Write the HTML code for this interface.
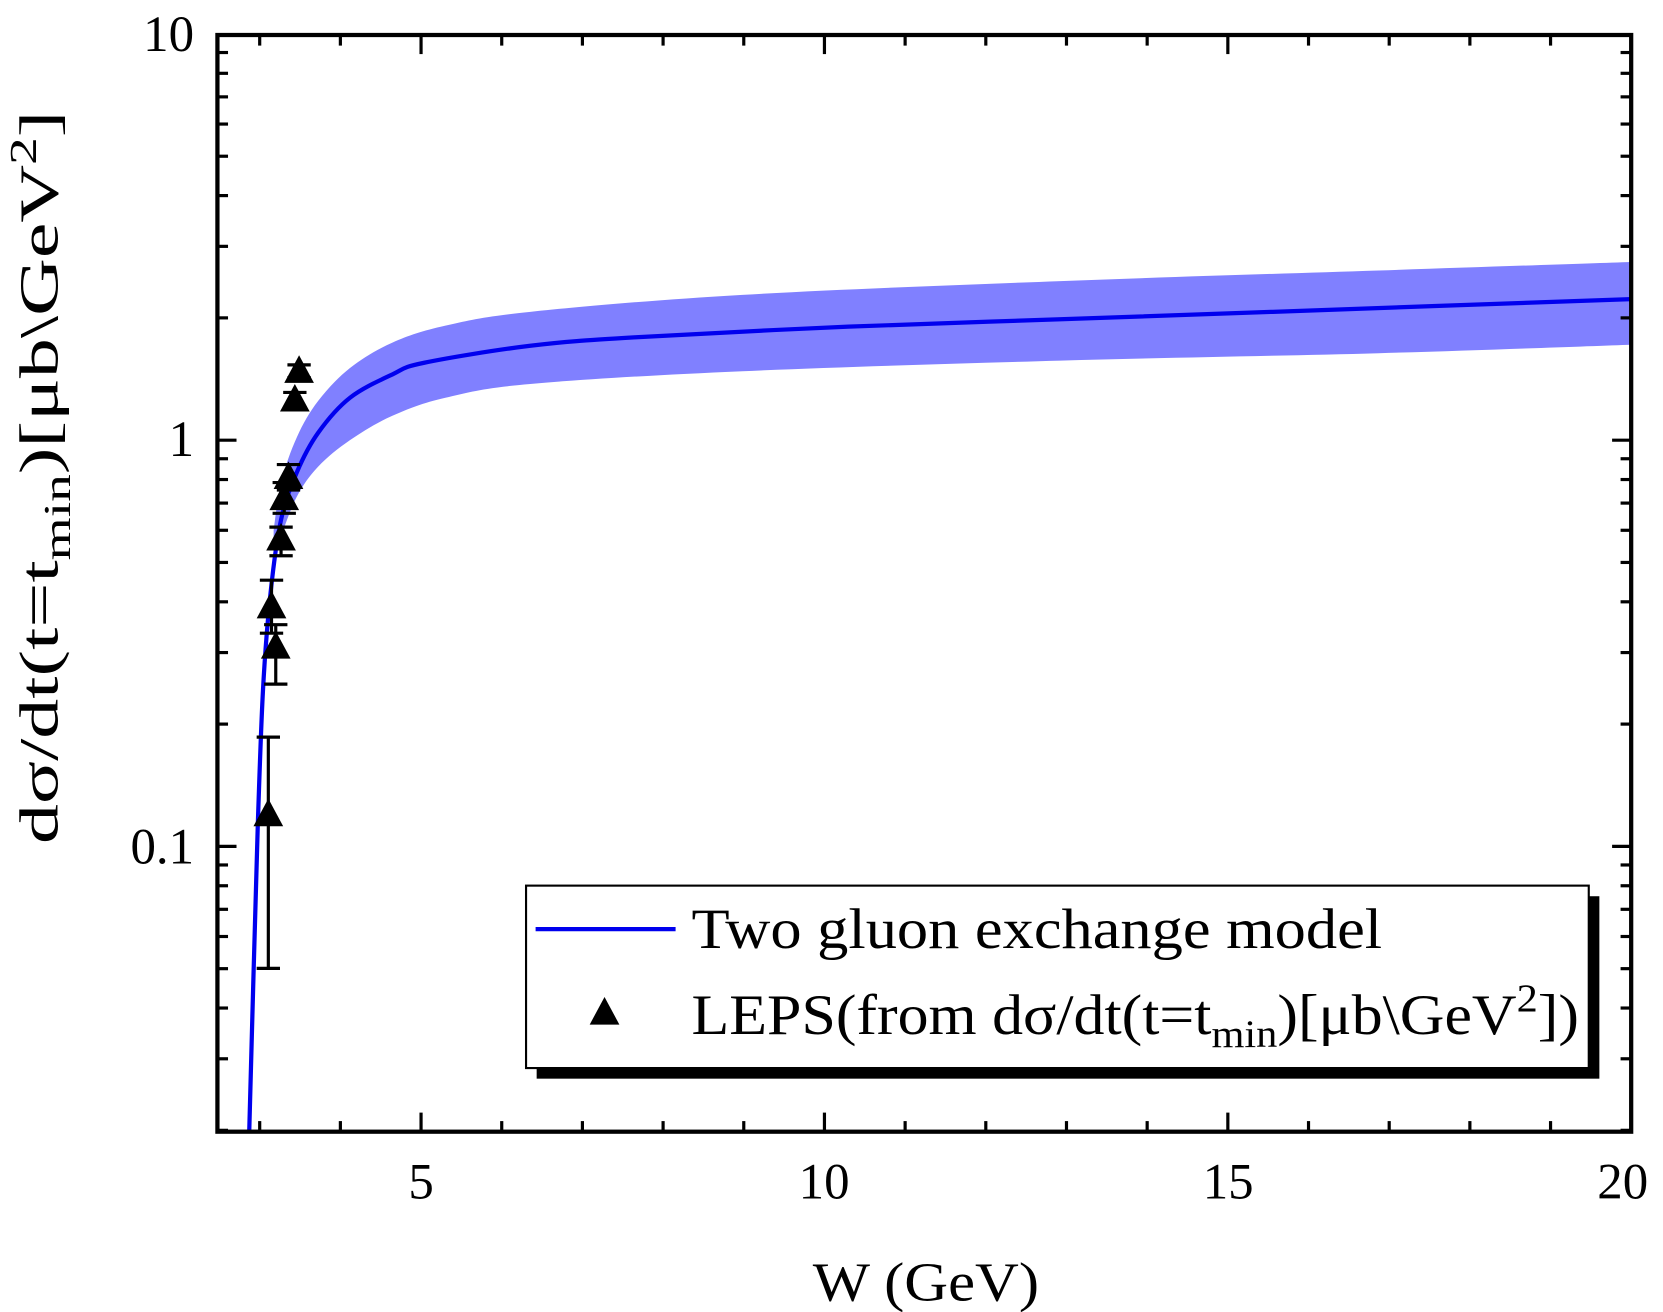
<!DOCTYPE html>
<html><head><meta charset="utf-8"><style>
html,body{margin:0;padding:0;background:#fff;}
svg{display:block;font-family:"Liberation Serif",serif;}
</style></head><body>
<svg id="s" width="1663" height="1312" viewBox="0 0 1568 1237" preserveAspectRatio="none" xmlns="http://www.w3.org/2000/svg">
<rect x="0" y="0" width="1568" height="1237" fill="#fff"/>
<path id="band" fill="#8080ff"/>
<path id="curve" fill="none" stroke="#0000ee" stroke-width="4"/>
<g id="ticks" stroke="#000" stroke-width="3"></g>
<g id="pts"></g>
<rect x="205" y="33" width="1333" height="1034" fill="none" stroke="#000" stroke-width="4"/>
<g font-size="48" text-anchor="end">
<text x="183" y="48">10</text>
<text x="183" y="430">1</text>
<text x="183" y="814">0.1</text>
</g>
<g font-size="48" text-anchor="middle">
<text x="397" y="1130">5</text>
<text x="777" y="1130">10</text>
<text x="1158" y="1130">15</text>
<text x="1530" y="1130">20</text>
<text transform="translate(873,1226) scale(1.1,1)" font-size="52">W (GeV)</text>
</g>
<text transform="translate(54,450) rotate(-90) scale(1.45,1)" font-size="52" text-anchor="middle">dσ/dt(t=t<tspan font-size="36" dy="12">min</tspan><tspan dy="-12">)[μb\GeV</tspan><tspan font-size="36" dy="-20">2</tspan><tspan dy="20">]</tspan></text>
<rect x="506" y="845" width="1002" height="172" fill="#000"/>
<rect x="496" y="835" width="1002" height="172" fill="#fff" stroke="#000" stroke-width="2"/>
<line x1="505" y1="876" x2="637" y2="876" stroke="#0000ee" stroke-width="4"/>
<text font-size="54" transform="translate(652,894) scale(1.09,1)">Two gluon exchange model</text>
<polygon points="570,940 556,966 584,966" fill="#000"/>
<text font-size="54" transform="translate(652,975) scale(1.08,1)">LEPS(from dσ/dt(t=t<tspan font-size="37" dy="12">min</tspan><tspan dy="-12">)[μb\GeV</tspan><tspan font-size="37" dy="-22">2</tspan><tspan dy="22">])</tspan></text>
</svg>
<script>
var NS="http://www.w3.org/2000/svg";
function cr(pts){var s="M"+pts[0][0]+","+pts[0][1];for(var i=0;i<pts.length-1;i++){var p0=pts[i-1]||pts[i],p1=pts[i],p2=pts[i+1],p3=pts[i+2]||p2;
s+=" C"+(p1[0]+(p2[0]-p0[0])/6)+","+(p1[1]+(p2[1]-p0[1])/6)+" "+(p2[0]-(p3[0]-p1[0])/6)+","+(p2[1]-(p3[1]-p1[1])/6)+" "+p2[0]+","+p2[1];}return s;}
var up=[[258,500],[265,455],[280,412],[300,378],[330,347],[370,323],[420,307],[500,294],[700,278],[1000,265],[1300,255],[1538,247]];
var lo=[[1538,325],[1300,333],[1000,340],[700,350],[500,362],[420,375],[370,392],[330,415],[300,440],[280,468],[265,505],[258,520]];
document.getElementById("band").setAttribute("d",cr(up)+" L"+cr(lo).slice(1)+" Z");
var c=[[235,1067],[239,920],[243,780],[248,650],[255,560],[265,490],[280,445],[300,408],[330,375],[370,353],[400,342],[500,326],[600,318],[800,308],[1000,301],[1200,294],[1538,282]];
document.getElementById("curve").setAttribute("d",cr(c));
var t=document.getElementById("ticks"),p=document.getElementById("pts");
function L(x1,y1,x2,y2){var l=document.createElementNS(NS,"line");l.setAttribute("x1",x1);l.setAttribute("y1",y1);l.setAttribute("x2",x2);l.setAttribute("y2",y2);t.appendChild(l);}
function Y(v){return 415-383*Math.log10(v);}
function X(w){return 397+(w-5)*76.07;}
for(var d=-2;d<=0;d++){for(var k=1;k<=9;k++){var v=k*Math.pow(10,d);var y=Y(v);if(y<33||y>1067)continue;var len=(k==1)?18:10;L(205,y,205+len,y);L(1538,y,1538-len,y);}}
for(var w=3;w<=20;w++){var x=X(w);var len=(w%5==0)?18:10;L(x,1067,x,1067-len);L(x,33,x,33+len);}
var dd=[[253,768,695,913],[256,572,547,597],[260,610,589,645],[265,508,497,524],[268,470,455,484],[272,450,438,462],[278,377,370,385],[282,350,344,356]];
dd.forEach(function(a){
var g=document.createElementNS(NS,"g");
g.innerHTML='<line x1="'+a[0]+'" y1="'+a[2]+'" x2="'+a[0]+'" y2="'+a[3]+'" stroke="#000" stroke-width="3"/><line x1="'+(a[0]-11)+'" y1="'+a[2]+'" x2="'+(a[0]+11)+'" y2="'+a[2]+'" stroke="#000" stroke-width="3"/><line x1="'+(a[0]-11)+'" y1="'+a[3]+'" x2="'+(a[0]+11)+'" y2="'+a[3]+'" stroke="#000" stroke-width="3"/><polygon points="'+a[0]+','+(a[1]-15)+' '+(a[0]-14)+','+(a[1]+11)+' '+(a[0]+14)+','+(a[1]+11)+'" fill="#000"/>';
p.appendChild(g);});
</script>
</body></html>
